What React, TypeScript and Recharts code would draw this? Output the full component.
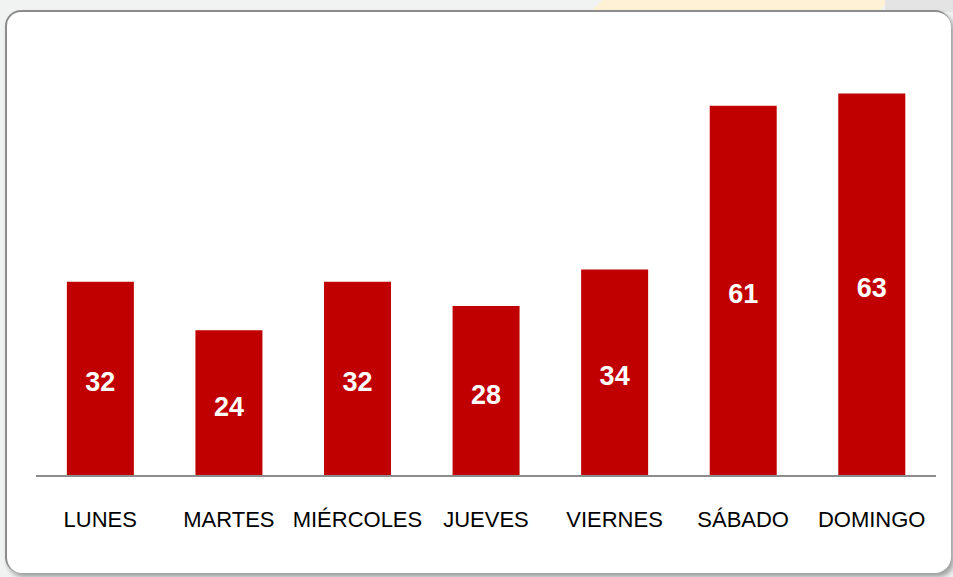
import React from 'react';
import { BarChart, Bar, XAxis, YAxis, LabelList } from 'recharts';

const days = ['LUNES', 'MARTES', 'MIÉRCOLES', 'JUEVES', 'VIERNES', 'SÁBADO', 'DOMINGO'];
const values = [32, 24, 32, 28, 34, 61, 63];

const data = days.map((day, i) => ({ day, value: values[i] }));

const FONT = '"Liberation Sans", Arial, sans-serif';

const App: React.FC = () => {
  return (
    <div
      style={{
        position: 'absolute',
        left: 0,
        top: 0,
        width: 953,
        height: 577,
        overflow: 'hidden',
        background: '#f1f2f2',
        fontFamily: FONT,
      }}
    >
      {/* slide decoration at the top */}
      <div
        style={{
          position: 'absolute',
          top: 0,
          left: 590,
          width: 300,
          height: 12,
          background: '#fff1d6',
          clipPath: 'polygon(4% 0, 100% 0, 96% 100%, 0 100%)',
        }}
      />
      <div
        style={{
          position: 'absolute',
          top: 0,
          left: 885,
          width: 80,
          height: 12,
          background: '#e4e4e4',
        }}
      />
      {/* card */}
      <div
        style={{
          position: 'absolute',
          left: 5,
          top: 10,
          width: 944,
          height: 561,
          background: '#fff',
          border: '2px solid #8c8c8c',
          borderRight: 'none',
          borderBottom: 'none',
          borderRadius: 16,
          boxShadow: '3px 4px 5px rgba(0,0,0,0.35)',
        }}
      />
      <div style={{ position: 'absolute', left: 0, top: 0 }}>
        <BarChart
          width={953}
          height={577}
          data={data}
          margin={{ top: 51, right: 17, bottom: 71, left: 36 }}
          barCategoryGap="24%"
        >
          <YAxis hide domain={[0, 70]} />
          <XAxis
            dataKey="day"
            height={30}
            interval={0}
            tickLine={false}
            axisLine={{ stroke: '#8c8c8c', strokeWidth: 2 }}
            tickMargin={29}
            tick={{ fill: '#000', fontSize: 22, fontFamily: FONT }}
          />
          <Bar dataKey="value" fill="#c00000" isAnimationActive={false}>
            <LabelList
              dataKey="value"
              position="center"
              fill="#fff"
              fontSize={27}
              fontWeight="bold"
              fontFamily={FONT}
              dy={3}
            />
          </Bar>
        </BarChart>
      </div>
    </div>
  );
};

export default App;
